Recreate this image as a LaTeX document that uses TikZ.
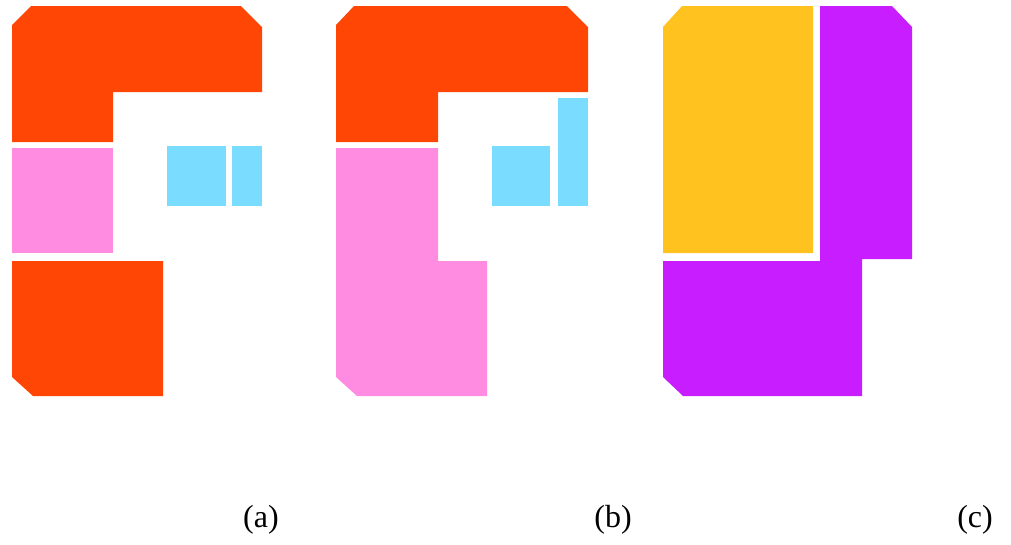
\documentclass[tikz,border=0pt]{standalone}
\usepackage{fontspec}
\setmainfont{Liberation Serif}
\definecolor{cOrange}{RGB}{255,70,5}
\definecolor{cPink}{RGB}{255,140,225}
\definecolor{cCyan}{RGB}{122,220,255}
\definecolor{cYellow}{RGB}{255,194,30}
\definecolor{cPurple}{RGB}{200,30,255}
\tikzset{
  orangepart/.style={fill=cOrange},
  pinkpart/.style={fill=cPink},
  cyanpart/.style={fill=cCyan},
  yellowpart/.style={fill=cYellow},
  purplepart/.style={fill=cPurple},
  caption/.style={anchor=base,font=\fontsize{24}{28}\selectfont,inner sep=0pt}
}
\begin{document}
\begin{tikzpicture}[x=0.75pt,y=-0.75pt]
\useasboundingbox (0,0) rectangle (1011,544);
% panel (a)
\path[orangepart] (12,25) -- (31,6) -- (241,6) -- (262,27) -- (262,92) -- (113,92) -- (113,142) -- (12,142) -- cycle;
\path[pinkpart] (12,148) rectangle (113,253);
\path[cyanpart] (167,146) rectangle (226,206);
\path[cyanpart] (232,146) rectangle (262,206);
\path[orangepart] (12,261) -- (163,261) -- (163,396) -- (33,396) -- (12,377) -- cycle;
% panel (b)
\path[orangepart] (336,25) -- (354,6) -- (567,6) -- (588,27) -- (588,92) -- (438,92) -- (438,142) -- (336,142) -- cycle;
\path[cyanpart] (558,98) rectangle (588,206);
\path[cyanpart] (492,146) rectangle (550,206);
\path[pinkpart] (336,148) -- (438,148) -- (438,261) -- (487,261) -- (487,396) -- (357,396) -- (336,377) -- cycle;
% panel (c)
\path[yellowpart] (663,27) -- (682,6) -- (813,6) -- (813,253) -- (663,253) -- cycle;
\path[purplepart] (820,6) -- (892,6) -- (912,27) -- (912,259) -- (862,259) -- (862,396) -- (683,396) -- (663,377) -- (663,261) -- (820,261) -- cycle;
% captions
\node[caption] (la) at (261,527) {(a)};
\node[caption] (lb) at (613,527) {(b)};
\node[caption] (lc) at (975,527) {(c)};
\end{tikzpicture}
\end{document}
